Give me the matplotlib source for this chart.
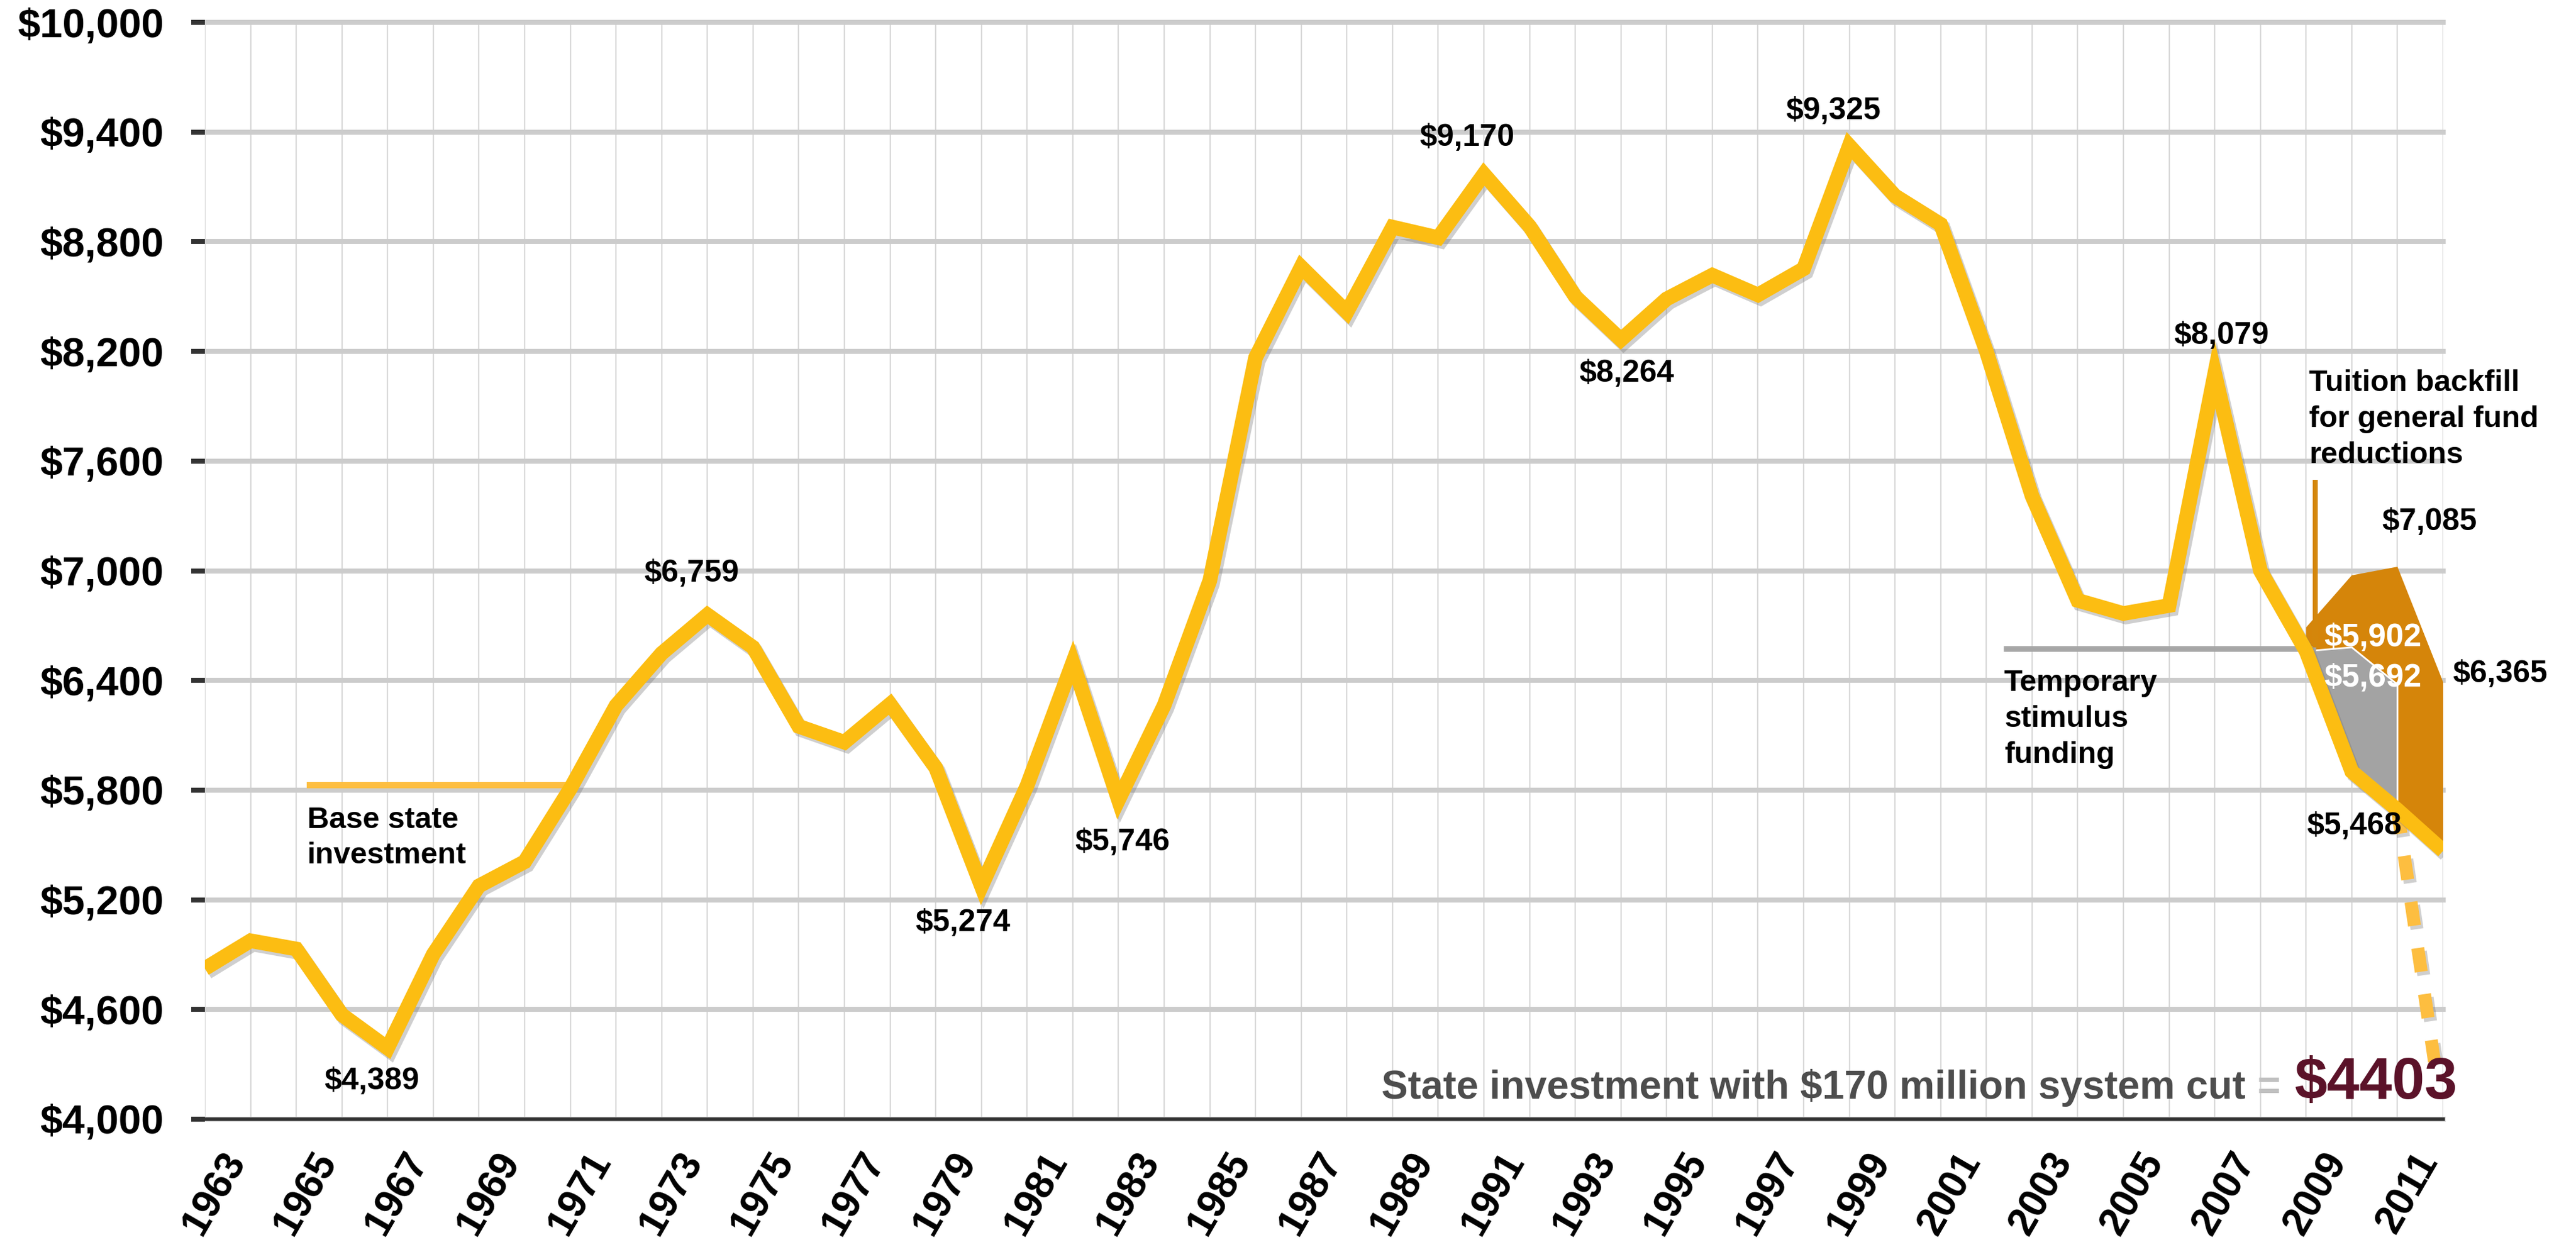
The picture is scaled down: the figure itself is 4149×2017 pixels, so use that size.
import matplotlib
matplotlib.use("Agg")
import matplotlib.pyplot as plt
import matplotlib.patheffects as pe
from matplotlib.transforms import ScaledTranslation
import numpy as np

plt.rcParams['font.family'] = ['Liberation Sans', 'DejaVu Sans']
plt.rcParams['font.weight'] = 'bold'

# ---------------- data ----------------
years = list(range(1963, 2013))
state_investment = [4824, 4976, 4931, 4571, 4389, 4902, 5276, 5408, 5808, 6262,
                    6548, 6759, 6581, 6149, 6062, 6270, 5922, 5274, 5825, 6498,
                    5746, 6264, 6946, 8165, 8662, 8415, 8880, 8822, 9170, 8884,
                    8500, 8264, 8487, 8617, 8509, 8652, 9325, 9051, 8895, 8201,
                    7409, 6838, 6766, 6810, 8079, 7000, 6560, 5902, 5692, 5468]

stimulus_years = [2009, 2010, 2011]
stimulus_top = [6560, 6581, 6378]          # state investment + temporary stimulus
backfill_years = [2009, 2010, 2011, 2012]
backfill_top = [6690, 6975, 7022, 6391]    # + tuition backfill

cut_years = [2011, 2011.81]
cut_values = [5692, 4315]                  # projection with $170 million cut

base_years = [1965.23, 1971.09]
base_value = 5828

yticks = list(range(4000, 10001, 600))
xtick_years = list(range(1963, 2012, 2))

# (text, x, y, color, size)
value_labels = [
    ("$4,389", 1966.66, 4207, "black", 36),
    ("$6,759", 1973.66, 6985, "black", 36),
    ("$5,274", 1979.60, 5072, "black", 36),
    ("$5,746", 1983.08, 5513, "black", 36),
    ("$9,170", 1990.63, 9369, "black", 36),
    ("$8,264", 1994.13, 8077, "black", 36),
    ("$9,325", 1998.65, 9515, "black", 36),
    ("$8,079", 2007.15, 8284, "black", 36),
    ("$7,085", 2011.70, 7266, "black", 36),
    ("$6,365", 2013.24, 6435, "black", 36),
    ("$5,902", 2010.46, 6632, "white", 37),
    ("$5,692", 2010.46, 6411, "white", 37),
    ("$5,468", 2010.06, 5604, "black", 36),
]

YELLOW = "#FCBD12"
ORANGE = "#D5850A"
LIGHT_ORANGE = "#FDBE40"
GRAY_FILL = "#A3A3A3"

# ---------------- figure ----------------
W, H = 4149, 2017
fig = plt.figure(figsize=(W / 100, H / 100), dpi=100)
ax = fig.add_axes([330 / W, 1 - 1803 / H, (3935 - 330) / W, (1803 - 36) / H])
ax.set_xlim(1963, 2012)
ax.set_ylim(4000, 10000)

# grid
ax.set_axisbelow(True)
ax.set_yticks(yticks)
ax.set_yticklabels([f"${v:,}" for v in yticks], fontsize=47, fontweight='bold')
ax.yaxis.grid(True, color="#CCCCCC", lw=5.8)
for gl in ax.get_ygridlines():
    gl.set_clip_on(False)
ax.set_xticks(xtick_years)
ax.set_xticks(years, minor=True)
ax.xaxis.grid(True, which='both', color="#D9D9D9", lw=1.6)

ax.tick_params(axis='y', length=16, width=5.8, color="#333333", pad=32, direction='out')
ax.tick_params(axis='x', which='both', length=0, pad=31, labelsize=46)
ax.set_xticklabels([str(y) for y in xtick_years], rotation=60, ha='right', va='top',
                   rotation_mode='anchor', fontweight='bold')
off = ScaledTranslation(0.25, 0, fig.dpi_scale_trans)
for lab in ax.get_xticklabels():
    lab.set_transform(lab.get_transform() + off)

for s in ['left', 'right', 'top']:
    ax.spines[s].set_visible(False)
ax.spines['bottom'].set_color("#333333")
ax.spines['bottom'].set_linewidth(4)
ax.spines['bottom'].set_zorder(3)

val = dict(zip(years, state_investment))

# orange: tuition backfill
ox = backfill_years + [backfill_years[-1], stimulus_years[-1]] + stimulus_years[::-1]
oy = backfill_top + [val[backfill_years[-1]], val[stimulus_years[-1]]] + stimulus_top[::-1]
ax.fill(ox, oy, color=ORANGE, lw=0, zorder=2)

# gray: temporary stimulus
gx = stimulus_years + stimulus_years[::-1]
gy = stimulus_top + [val[y] for y in stimulus_years[::-1]]
ax.fill(gx, gy, facecolor=GRAY_FILL, edgecolor="white", lw=2, zorder=2.2)

shadow = [pe.SimpleLineShadow(offset=(3, -4), shadow_color="#777777", alpha=0.35), pe.Normal()]

# base state investment line
ax.plot(base_years, [base_value, base_value], color=LIGHT_ORANGE, lw=7.2,
        solid_capstyle='butt', zorder=2.5)

# main line
ax.plot(years, state_investment, color=YELLOW, lw=17, solid_joinstyle='miter',
        solid_capstyle='butt', zorder=4, path_effects=shadow)

# projected cut (dashed)
cut_line, = ax.plot(cut_years, cut_values, color=LIGHT_ORANGE, lw=15,
                    dash_capstyle='butt', zorder=3.5, clip_on=False, path_effects=shadow)
cut_line.set_dashes((1.85, 1.75))

# pointer lines
ax.plot([2002.38, 2009.21], [6574, 6574], color="#A6A6A6", lw=6.5,
        solid_capstyle='butt', zorder=3)
ax.plot([2009.2, 2009.2], [6581, 7497], color="#D4860B", lw=5.8,
        solid_capstyle='butt', zorder=3)

# annotations
ax.text(1965.24, 5713, "Base state\ninvestment", fontsize=35, fontweight='bold',
        ha='left', va='top', linespacing=1.37, zorder=6)
ax.text(2002.39, 6462, "Temporary\nstimulus\nfunding", fontsize=35, fontweight='bold',
        ha='left', va='top', linespacing=1.37, zorder=6)
ax.text(2009.07, 8101, "Tuition backfill\nfor general fund\nreductions", fontsize=35,
        fontweight='bold', ha='left', va='top', linespacing=1.37, zorder=6)

for txt, x, y, c, s in value_labels:
    ax.text(x, y, txt, color=c, fontsize=s, fontweight='bold', ha='center',
            va='center', zorder=7, clip_on=False)

ax.text(2007.67, 4112, "State investment with $170 million system cut", color="#4D4D4D",
        fontsize=46, fontweight='bold', ha='right', va='baseline', zorder=7)
ax.text(2008.43, 4112, "=", color="#C0C0C0", fontsize=46, fontweight='bold',
        ha='right', va='baseline', zorder=7)
ax.text(2012.31, 4112, "$4403", color="#5B1229", fontsize=68, fontweight='bold',
        ha='right', va='baseline', zorder=7, clip_on=False)

fig.savefig("out.png", dpi=100, facecolor='white')
